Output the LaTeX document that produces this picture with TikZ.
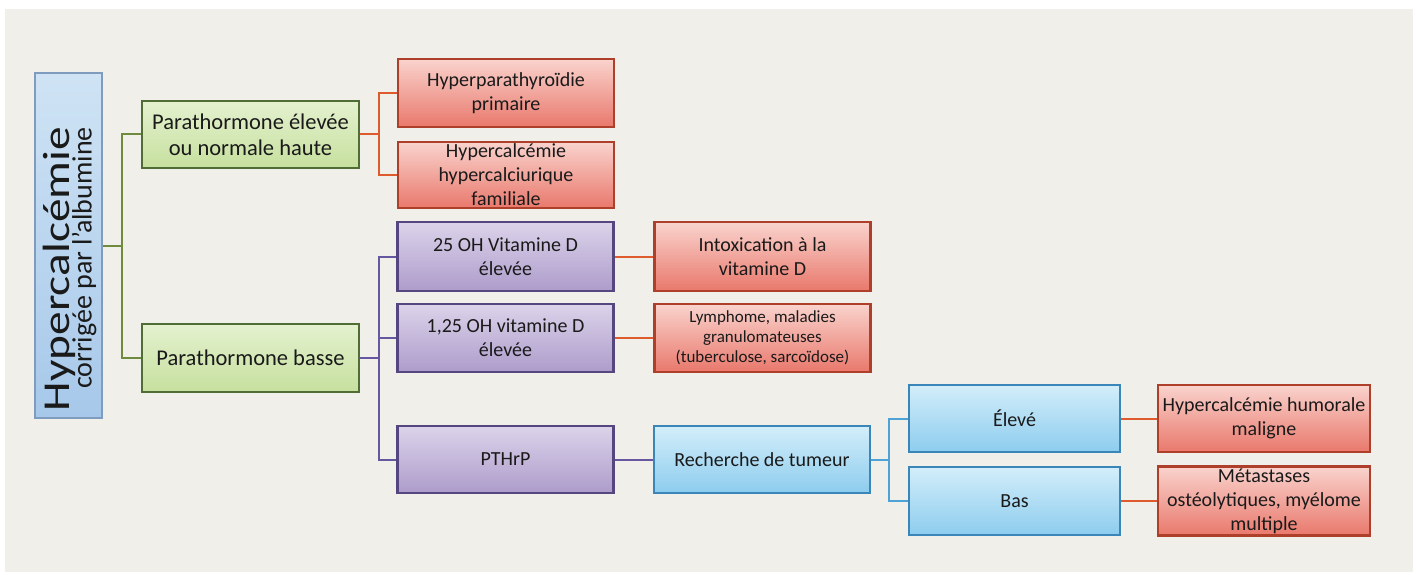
\documentclass[tikz,border=0pt]{standalone}
\usepackage{fontspec}
\setmainfont{Carlito}
\usepackage{graphicx}
\usetikzlibrary{calc}

\definecolor{bgpanel}{HTML}{F1EFEA}
\definecolor{txt}{HTML}{1A1A1A}
% box colours: fill top / fill bottom / border
\definecolor{mainT}{HTML}{CFE3F4}\definecolor{mainB}{HTML}{A7C8EA}\definecolor{mainD}{HTML}{7F9CBE}
\definecolor{grnT}{HTML}{E4F1CF}\definecolor{grnB}{HTML}{C6E09E}\definecolor{grnD}{HTML}{4F6D34}
\definecolor{redT}{HTML}{F9D3CD}\definecolor{redB}{HTML}{E9786C}\definecolor{redD}{HTML}{AE3F2B}
\definecolor{purT}{HTML}{DCD3EA}\definecolor{purB}{HTML}{AD9CCB}\definecolor{purD}{HTML}{56467F}
\definecolor{cyaT}{HTML}{D3EEFA}\definecolor{cyaB}{HTML}{8DCCEE}\definecolor{cyaD}{HTML}{3A86B8}
% connector colours
\definecolor{lnG}{HTML}{6F8C3E}
\definecolor{lnR}{HTML}{DD5B2D}
\definecolor{lnP}{HTML}{6757A0}
\definecolor{lnC}{HTML}{4DA2D6}

\tikzset{
  box/.style={draw, line width=2.4pt, align=center, inner sep=2pt, text=txt,
              minimum width=216pt, minimum height=68pt},
  mainbox/.style={box, top color=mainT, bottom color=mainB, draw=mainD, line width=2pt,
              minimum width=67pt, minimum height=345pt},
  grnbox/.style={box, top color=grnT, bottom color=grnB, draw=grnD,
              minimum width=217pt, font=\fontsize{22.5}{26}\selectfont},
  redbox/.style={box, top color=redT, bottom color=redB, draw=redD,
              font=\fontsize{20}{24}\selectfont},
  purbox/.style={box, top color=purT, bottom color=purB, draw=purD,
              font=\fontsize{20}{24}\selectfont},
  cyabox/.style={box, top color=cyaT, bottom color=cyaB, draw=cyaD,
              font=\fontsize{20}{24}\selectfont},
  link/.style={line width=2pt},
}

\begin{document}
\begin{tikzpicture}[x=1pt,y=-1pt]
  \useasboundingbox (0,0) rectangle (1416,575);
  \fill[bgpanel] (5,9) rectangle (1413,572);

  % root
  \node[mainbox] (main) at (68.5,245.5) {};
  \node[rotate=90, anchor=east, align=right, inner sep=0pt, text=txt] (maintxt) at (70,127)
    {\scalebox{1.245}[1]{\fontsize{38}{38}\selectfont Hypercalcémie}\\[-5pt]
     \fontsize{28}{28}\selectfont corrigée par l'albumine};

  % level 1
  \node[grnbox, minimum height=67pt] (g1) at (250.5,134.5) {Parathormone élevée\\ou normale haute};
  \node[grnbox] (g2) at (250.5,358) {Parathormone basse};

  % high PTH branch
  \node[redbox] (r1) at (506,93) {Hyperparathyroïdie\\primaire};
  \node[redbox, minimum height=66pt] (r2) at (506,175) {Hypercalcémie\\hypercalciurique\\familiale};

  % low PTH branch
  \node[purbox, minimum height=69pt] (p1) at (505.5,256.5) {25 OH Vitamine D\\élevée};
  \node[purbox] (p2) at (505.5,338) {1,25 OH vitamine D\\élevée};
  \node[purbox, minimum height=67pt] (p3) at (505.5,459.5) {PTHrP};

  \node[redbox, minimum height=69pt] (r3) at (762.5,256.5) {Intoxication à la\\vitamine D};
  \node[redbox, font=\fontsize{17}{20}\selectfont] (r4) at (762.5,338)
    {Lymphome, maladies\\granulomateuses\\(tuberculose, sarcoïdose)};
  \node[cyabox, minimum height=67pt] (c0) at (762,459.5) {Recherche de tumeur};

  \node[cyabox, minimum width=211pt, minimum height=67pt] (c1) at (1014.5,418.5) {Élevé};
  \node[cyabox, minimum width=211pt] (c2) at (1014.5,501) {Bas};

  \node[redbox, minimum width=212pt, minimum height=67pt] (r5) at (1264,418.5) {Hypercalcémie humorale\\maligne};
  \node[redbox, minimum width=212pt] (r6) at (1264,501) {Métastases\\ostéolytiques, myélome\\multiple};

  % trunk positions of the brackets
  \coordinate (tg) at (122,0);
  \coordinate (tr) at (379,0);
  \coordinate (tc) at (889,0);

  % connectors
  \draw[link, lnG] (main.east) -- (main.east -| tg);
  \draw[link, lnG] (g1.west) -- (g1.west -| tg) |- (g2.west);

  \draw[link, lnR] (g1.east) -- (g1.east -| tr);
  \draw[link, lnR] (r1.west) -- (r1.west -| tr) |- (r2.west);

  \draw[link, lnP] (g2.east) -- (g2.east -| tr);
  \draw[link, lnP] (p1.west) -- (p1.west -| tr) |- (p3.west);
  \draw[link, lnP] (p2.west) -- (p2.west -| tr);

  \draw[link, lnR] (p1.east) -- (r3.west);
  \draw[link, lnR] (p2.east) -- (r4.west);
  \draw[link, lnP] (p3.east) -- (c0.west);

  \draw[link, lnC] (c0.east) -- (c0.east -| tc);
  \draw[link, lnC] (c1.west) -- (c1.west -| tc) |- (c2.west);

  \draw[link, lnR] (c1.east) -- (r5.west);
  \draw[link, lnR] (c2.east) -- (r6.west);
\end{tikzpicture}
\end{document}
